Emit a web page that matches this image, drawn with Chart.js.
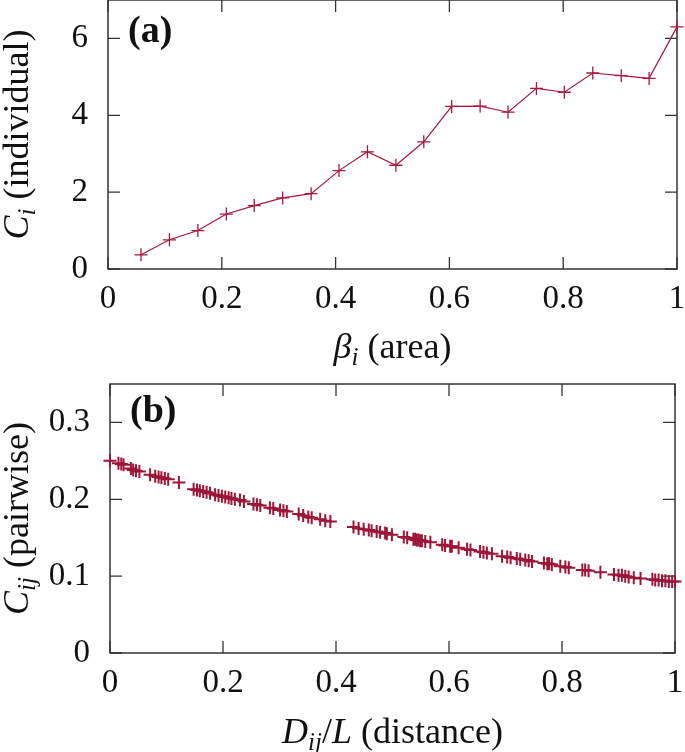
<!DOCTYPE html>
<html>
<head>
<meta charset="utf-8">
<script src="https://cdn.jsdelivr.net/npm/chart.js@4.4.1/dist/chart.umd.min.js"></script>
<style>
    body { margin: 0; background: #fff; }
    #wrap { position: relative; width: 685px; height: 752px; overflow: hidden; }
    canvas { position: absolute; left: 0; }
</style>
</head>
<body>
<div id="wrap">
    <canvas id="panelA" width="685" height="376" style="top:-1px"></canvas>
    <canvas id="panelB" width="685" height="376" style="top:376px"></canvas>
</div>
<script>
    // (a) individual
    var betaArea = [0.058, 0.108, 0.158, 0.208, 0.257, 0.307, 0.357, 0.406, 0.456, 0.506,
        0.555, 0.604, 0.654, 0.703, 0.753, 0.802, 0.852, 0.902, 0.951, 1.0];
    var individualC = [0.37, 0.76, 1.0, 1.43, 1.65, 1.85, 1.96, 2.56, 3.05, 2.70,
        3.31, 4.23, 4.24, 4.08, 4.70, 4.60, 5.10, 5.03, 4.96, 6.30];

    // (b) pairwise
    var pairDistance = [0.000,
        0.015, 0.020, 0.024, 0.037, 0.041, 0.046, 0.052,
        0.071, 0.080, 0.086, 0.091, 0.097, 0.103, 0.122,
        0.148, 0.154, 0.159, 0.165, 0.171, 0.177, 0.186, 0.192, 0.198, 0.204,
        0.210, 0.215, 0.221, 0.230, 0.237, 0.254, 0.260, 0.266,
        0.283, 0.289, 0.301, 0.307, 0.313,
        0.334, 0.342, 0.351, 0.357, 0.372, 0.381, 0.390,
        0.431, 0.440, 0.449, 0.458, 0.463, 0.472, 0.478, 0.487, 0.490, 0.499,
        0.520, 0.526, 0.537, 0.540, 0.543, 0.546, 0.549, 0.552, 0.558, 0.567,
        0.588, 0.593, 0.602, 0.605, 0.617, 0.632, 0.638,
        0.655, 0.661, 0.667, 0.676,
        0.694, 0.703, 0.709, 0.720, 0.726, 0.735, 0.741, 0.747,
        0.768, 0.774, 0.777, 0.782, 0.797, 0.806, 0.812,
        0.836, 0.841, 0.847, 0.868,
        0.892, 0.900, 0.906, 0.912, 0.918, 0.927, 0.939,
        0.960, 0.965, 0.971, 0.977, 0.983, 0.989, 0.995, 1.000];
    var pairwiseC = [0.250,
        0.247, 0.246, 0.245, 0.240, 0.238, 0.237, 0.236,
        0.232, 0.230, 0.229, 0.228, 0.227, 0.226, 0.222,
        0.213, 0.212, 0.211, 0.210, 0.209, 0.208, 0.206, 0.205, 0.204, 0.203,
        0.202, 0.201, 0.200, 0.199, 0.197, 0.194, 0.193, 0.192,
        0.189, 0.188, 0.186, 0.185, 0.184,
        0.181, 0.179, 0.177, 0.176, 0.174, 0.172, 0.171,
        0.164, 0.162, 0.161, 0.160, 0.159, 0.158, 0.157, 0.156, 0.155, 0.154,
        0.151, 0.150, 0.148, 0.148, 0.147, 0.147, 0.146, 0.146, 0.145, 0.144,
        0.141, 0.140, 0.139, 0.139, 0.137, 0.135, 0.134,
        0.132, 0.131, 0.130, 0.129,
        0.126, 0.125, 0.124, 0.123, 0.122, 0.121, 0.120, 0.119,
        0.117, 0.116, 0.116, 0.115, 0.113, 0.112, 0.111,
        0.108, 0.108, 0.107, 0.105,
        0.102, 0.101, 0.101, 0.100, 0.099, 0.098, 0.097,
        0.096, 0.095, 0.095, 0.094, 0.094, 0.093, 0.093, 0.093];

    // tick values
    var unitTicksX = [0, 0.2, 0.4, 0.6, 0.8, 1];
    var individualTicksY = [0, 2, 4, 6];
    var pairwiseTicksY = [0, 0.1, 0.2, 0.3];

    var SERIF = '"Liberation Serif", "DejaVu Serif", serif';
    var TICK_LEN = 12;
    var TITLE_SIZE = 36;

    function toPoints(xs, ys) {
        return xs.map(function (x, i) { return { x: x, y: ys[i] }; });
    }

    function fixedTicks(values) {
        return function (scale) {
            scale.ticks = values.map(function (v) { return { value: v }; });
        };
    }

    function plainNumber(v) {
        return String(+v.toFixed(2));
    }

    // keep the plot box where the figure has it: no extra room for label overhang
    function noOverhang(scale) {
        scale.paddingTop = 0;
        scale.paddingBottom = 0;
        scale.paddingLeft = 0;
        scale.paddingRight = 0;
    }

    // frame + inward ticks on all four sides, like the gnuplot border
    var frameTicks = {
        id: 'frameTicks',
        beforeDatasetsDraw: function (chart) {
            var ctx = chart.ctx, a = chart.chartArea;
            var xs = chart.scales.x, ys = chart.scales.y;
            ctx.save();
            ctx.strokeStyle = '#333';
            ctx.lineWidth = 1.5;
            ctx.strokeRect(a.left, a.top, a.right - a.left, a.bottom - a.top);
            ctx.lineWidth = 1.3;
            ctx.beginPath();
            xs.ticks.forEach(function (t) {
                var px = xs.getPixelForValue(t.value);
                ctx.moveTo(px, a.bottom); ctx.lineTo(px, a.bottom - TICK_LEN);
                ctx.moveTo(px, a.top); ctx.lineTo(px, a.top + TICK_LEN);
            });
            ys.ticks.forEach(function (t) {
                var py = ys.getPixelForValue(t.value);
                ctx.moveTo(a.left, py); ctx.lineTo(a.left + TICK_LEN, py);
                ctx.moveTo(a.right, py); ctx.lineTo(a.right - TICK_LEN, py);
            });
            ctx.stroke();
            ctx.restore();
        }
    };

    function drawRich(ctx, pieces, size, dy) {
        var fonts = pieces.map(function (p) {
            if (p[1] === 'sub') return 'italic ' + Math.round(size * 0.7) + 'px ' + SERIF;
            if (p[1] === 'it') return 'italic ' + size + 'px ' + SERIF;
            return size + 'px ' + SERIF;
        });
        var widths = [], total = 0;
        pieces.forEach(function (p, i) {
            ctx.font = fonts[i];
            var w = ctx.measureText(p[0]).width;
            widths.push(w);
            total += w;
        });
        var x = -total / 2;
        ctx.textBaseline = 'alphabetic';
        ctx.textAlign = 'left';
        pieces.forEach(function (p, i) {
            ctx.font = fonts[i];
            ctx.fillText(p[0], x, dy + (p[1] === 'sub' ? 7 : 0));
            x += widths[i];
        });
    }

    // axis titles with math subscripts and the panel tag
    function makeLabels(cfg) {
        return {
            id: 'mathLabels',
            afterDraw: function (chart) {
                var ctx = chart.ctx, a = chart.chartArea;
                ctx.save();
                ctx.fillStyle = '#111';
                ctx.translate((a.left + a.right) / 2, cfg.xTitleY);
                drawRich(ctx, cfg.xTitle, TITLE_SIZE, 8);
                ctx.setTransform(1, 0, 0, 1, 0, 0);
                ctx.translate(20, (a.top + a.bottom) / 2);
                ctx.rotate(-Math.PI / 2);
                drawRich(ctx, cfg.yTitle, TITLE_SIZE, 8);
                ctx.setTransform(1, 0, 0, 1, 0, 0);
                ctx.font = 'bold 38px ' + SERIF;
                ctx.textAlign = 'left';
                ctx.textBaseline = 'alphabetic';
                ctx.fillText(cfg.tag, a.left + 20, cfg.tagBaseline);
                ctx.restore();
            }
        };
    }

    function makeChart(id, cfg) {
        return new Chart(document.getElementById(id), {
            type: 'scatter',
            data: {
                datasets: [{
                    data: cfg.points,
                    showLine: cfg.showLine,
                    borderColor: cfg.color,
                    backgroundColor: cfg.color,
                    borderWidth: 1.2,
                    pointStyle: 'cross',
                    pointRadius: cfg.radius,
                    pointBorderWidth: cfg.markWidth,
                    pointBorderColor: cfg.color,
                    tension: 0,
                    clip: false
                }]
            },
            options: {
                responsive: false,
                animation: false,
                devicePixelRatio: 1,
                events: [],
                layout: {
                    autoPadding: false,
                    padding: { top: cfg.padTop, right: cfg.padRight, left: 0, bottom: 0 }
                },
                plugins: { legend: { display: false }, tooltip: { enabled: false } },
                scales: {
                    x: {
                        type: 'linear',
                        min: 0,
                        max: 1,
                        afterBuildTicks: fixedTicks(unitTicksX),
                        afterFit: function (scale) {
                            scale.height = cfg.xHeight;
                            noOverhang(scale);
                        },
                        grid: { display: false, drawTicks: false },
                        border: { display: false },
                        ticks: {
                            padding: 14,
                            maxRotation: 0,
                            color: '#111',
                            callback: plainNumber,
                            font: { family: SERIF, size: 33, lineHeight: 1 }
                        }
                    },
                    y: {
                        type: 'linear',
                        min: cfg.yMin,
                        max: cfg.yMax,
                        afterBuildTicks: fixedTicks(cfg.yTicks),
                        afterFit: function (scale) {
                            scale.width = cfg.yWidth;
                            noOverhang(scale);
                        },
                        grid: { display: false, drawTicks: false },
                        border: { display: false },
                        ticks: {
                            padding: 20,
                            color: '#111',
                            callback: plainNumber,
                            font: { family: SERIF, size: 33, lineHeight: 1 }
                        }
                    }
                }
            },
            plugins: [frameTicks, makeLabels(cfg.labels)]
        });
    }

    makeChart('panelA', {
        points: toPoints(betaArea, individualC),
        showLine: true,
        color: '#a8173c',
        radius: 6.5,
        markWidth: 1.3,
        padTop: 1,
        padRight: 8,
        xHeight: 106,
        yWidth: 108,
        yMin: 0,
        yMax: 7,
        yTicks: individualTicksY,
        labels: {
            xTitle: [['\u03b2', 'it'], ['i', 'sub'], [' (area)', 'rm']],
            xTitleY: 351,
            yTitle: [['C', 'it'], ['i', 'sub'], [' (individual)', 'rm']],
            tag: '(a)',
            tagBaseline: 43
        }
    });

    makeChart('panelB', {
        points: toPoints(pairDistance, pairwiseC),
        showLine: false,
        color: '#9d1537',
        radius: 6.5,
        markWidth: 2,
        padTop: 8,
        padRight: 10,
        xHeight: 99,
        yWidth: 110,
        yMin: 0,
        yMax: 0.35,
        yTicks: pairwiseTicksY,
        labels: {
            xTitle: [['D', 'it'], ['ij', 'sub'], ['/', 'rm'], ['L', 'it'], [' (distance)', 'rm']],
            xTitleY: 359,
            yTitle: [['C', 'it'], ['ij', 'sub'], [' (pairwise)', 'rm']],
            tag: '(b)',
            tagBaseline: 46
        }
    });
</script>
</body>
</html>
